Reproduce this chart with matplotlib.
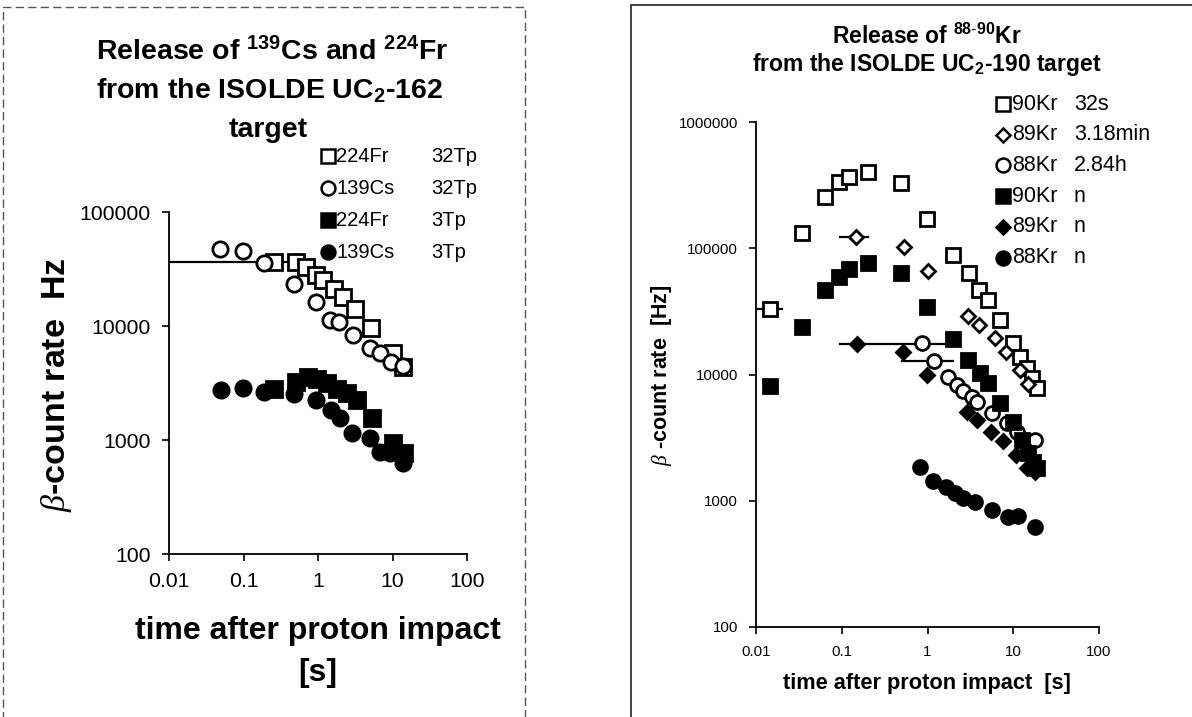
import matplotlib
matplotlib.use("Agg")
import matplotlib.pyplot as plt
from matplotlib.patches import Rectangle
from matplotlib.lines import Line2D

plt.rcParams['font.family'] = ['Liberation Sans', 'DejaVu Sans']
plt.rcParams['mathtext.fontset'] = 'custom'
plt.rcParams['mathtext.rm'] = 'Liberation Sans'
plt.rcParams['mathtext.bf'] = 'Liberation Sans:bold'
plt.rcParams['mathtext.it'] = 'Liberation Serif:italic'

W, H = 1192, 717

# ---- left panel: 139Cs / 224Fr, UC2-162 target ----
fr32_t = [0.26, 0.51, 0.69, 0.94, 1.17, 1.64, 2.17, 3.14, 5.1, 10.2, 13.8]
fr32_r = [36400, 36400, 33000, 28000, 25300, 21100, 18000, 14100, 9600, 5800, 4400]
cs32_t = [0.049, 0.098, 0.19, 0.48, 0.94, 1.45, 1.9, 2.95, 5.0, 6.8, 9.5, 13.8]
cs32_r = [47300, 45500, 35700, 23400, 16300, 11300, 10800, 8300, 6400, 5800, 4800, 4460]
fr3_t = [0.26, 0.51, 0.73, 0.97, 1.32, 1.8, 2.46, 3.35, 5.3, 10.2, 14.1]
fr3_r = [2800, 3230, 3570, 3430, 3160, 2800, 2580, 2240, 1560, 940, 770]
cs3_t = [0.05, 0.098, 0.19, 0.48, 0.94, 1.49, 1.97, 2.84, 5.0, 6.8, 9.2, 13.8]
cs3_r = [2750, 2860, 2640, 2530, 2240, 1830, 1560, 1150, 1040, 785, 770, 630]
left_xerr = [0.01, 0.7]  # horizontal bar on first 224Fr 32Tp point

left_names = ['224Fr', '139Cs', '224Fr', '139Cs']
left_notes = ['32Tp', '32Tp', '3Tp', '3Tp']

# ---- right panel: 88-90Kr, UC2-190 target ----
kr90_t = [0.0146, 0.0344, 0.064, 0.093, 0.122, 0.203, 0.49, 0.99, 1.99, 3.05, 4.0, 5.1,
          7.0, 10.0, 12.0, 14.5, 16.6, 19.0]
kr90_r = [33000, 132000, 255000, 335000, 367000, 402000, 329000, 171000, 88500, 63700,
          46800, 39000, 27100, 17800, 13800, 11300, 9400, 7830]
kr89_t = [0.147, 0.53, 1.02, 2.98, 4.0, 6.15, 8.3, 12.0, 14.9]
kr89_r = [123000, 102000, 66000, 29100, 24700, 19500, 15100, 10900, 8430]
kr88_t = [0.87, 1.19, 1.74, 2.21, 2.6, 3.31, 3.79, 5.67, 8.5, 11.1, 18.0]
kr88_r = [17800, 12800, 9570, 8280, 7420, 6650, 6070, 4970, 4140, 3510, 3030]
kr90n_t = [0.0146, 0.0344, 0.064, 0.093, 0.122, 0.203, 0.49, 0.99, 1.99, 2.98, 4.1, 5.1,
           7.0, 10.0, 12.8, 14.9, 17.2, 19.0]
kr90n_r = [8130, 23800, 46800, 59300, 68600, 76500, 63700, 34300, 19100, 13000, 10300,
           8570, 5960, 4220, 3030, 2390, 2040, 1820]
kr89n_t = [0.15, 0.52, 0.99, 2.9, 3.8, 5.5, 7.6, 10.8, 14.5, 18.0]
kr89n_r = [17500, 15100, 9930, 5060, 4370, 3510, 2980, 2310, 1820, 1700]
kr88n_t = [0.82, 1.16, 1.65, 2.1, 2.6, 3.6, 5.7, 8.7, 11.4, 18.0]
kr88n_r = [1850, 1440, 1290, 1160, 1060, 980, 850, 750, 760, 620]
# horizontal bars (x from, x to) on single points
kr90_xerr = [0.0099, 0.020]
kr89_xerr = [0.095, 0.20]
kr89n_xerr = [0.095, 1.99]
kr88_xerr = [0.50, 2.0]

right_names = ['90Kr', '89Kr', '88Kr', '90Kr', '89Kr', '88Kr']
right_notes = ['32s', '3.18min', '2.84h', 'n', 'n', 'n']

x_ticks = [0.01, 0.1, 1, 10, 100]
x_ticklabels = ['0.01', '0.1', '1', '10', '100']


def fx(px):
    return px / W


def fy(py):
    return 1 - py / H


def style_axes(ax, ymin, ymax, fs):
    ax.set_xscale('log')
    ax.set_yscale('log')
    ax.set_xlim(0.01, 100)
    ax.set_ylim(ymin, ymax)
    ax.spines['top'].set_visible(False)
    ax.spines['right'].set_visible(False)
    for s in ('left', 'bottom'):
        ax.spines[s].set_linewidth(1.3)
    ax.set_xticks(x_ticks)
    ax.set_xticklabels(x_ticklabels)
    ax.minorticks_off()
    ax.tick_params(direction='out', length=5, width=1.2, labelsize=fs, pad=8)
    ax.set_facecolor('white')


def hbar(ax, x0, x1, y):
    ax.plot([x0, x1], [y, y], color='black', lw=1.6, zorder=2)


fig = plt.figure(figsize=(W / 100, H / 100), dpi=100)

# panel frames (open at the bottom / right edge of the page)
fig.add_artist(Rectangle((fx(3), fy(730)), fx(522), (730 - 7) / H, fill=False,
                         ec='#555555', lw=1.0, ls=(0, (6, 3)), transform=fig.transFigure))
fig.add_artist(Rectangle((fx(631), fy(730)), fx(580), (730 - 5) / H, fill=False,
                         ec='#333333', lw=1.3, transform=fig.transFigure))

# ---------------- left ----------------
axL = fig.add_axes([fx(169), fy(554), fx(467 - 169), (554 - 212) / H])
style_axes(axL, 100, 100000, 15.3)
axL.set_yticks([100, 1000, 10000, 100000])
axL.set_yticklabels(['100', '1000', '10000', '100000'])

hbar(axL, left_xerr[0], left_xerr[1], fr32_r[0])
mk = dict(ls='none', mew=2.0, zorder=3, clip_on=False)
axL.plot(fr32_t, fr32_r, marker='s', ms=11, mfc='white', mec='black', **mk)
axL.plot(cs32_t, cs32_r, marker='o', ms=11, mfc='white', mec='black', **mk)
axL.plot(fr3_t, fr3_r, marker='s', ms=11, mfc='black', mec='black', **mk)
axL.plot(cs3_t, cs3_r, marker='o', ms=11, mfc='black', mec='black', **mk)

fig.text(fx(272), fy(52), r'Release of $\mathbf{^{139}}$Cs and $\mathbf{^{224}}$Fr',
         ha='center', va='center', fontsize=20.5, fontweight='bold')
fig.text(fx(270), fy(91), r'from the ISOLDE UC$\mathbf{_2}$-162',
         ha='center', va='center', fontsize=20.5, fontweight='bold')
fig.text(fx(268), fy(130), 'target', ha='center', va='center', fontsize=20.5,
         fontweight='bold')

left_styles = [('s', 'white'), ('o', 'white'), ('s', 'black'), ('o', 'black')]
for i, (name, note) in enumerate(zip(left_names, left_notes)):
    yy = fy(156 + 32 * i)
    m, fc = left_styles[i]
    fig.add_artist(Line2D([fx(328)], [yy], marker=m, ms=10, mfc=fc, mec='black', mew=1.8,
                          transform=fig.transFigure))
    fig.text(fx(336), yy, name, ha='left', va='center', fontsize=14.5)
    fig.text(fx(431), yy, note, ha='left', va='center', fontsize=14.5)

fig.text(fx(57), fy(385), r'$\beta$-count rate  Hz', rotation=90, ha='center', va='center',
         fontsize=24.5, fontweight='bold')
fig.text(fx(318), fy(631), 'time after proton impact', ha='center', va='center',
         fontsize=23, fontweight='bold')
fig.text(fx(318), fy(673), '[s]', ha='center', va='center', fontsize=23, fontweight='bold')

# ---------------- right ----------------
axR = fig.add_axes([fx(756), fy(627), fx(1099 - 756), (627 - 122) / H])
style_axes(axR, 100, 1000000, 10.8)
axR.set_yticks([100, 1000, 10000, 100000, 1000000])
axR.set_yticklabels(['100', '1000', '10000', '100000', '1000000'])

hbar(axR, kr90_xerr[0], kr90_xerr[1], kr90_r[0])
hbar(axR, kr89_xerr[0], kr89_xerr[1], kr89_r[0])
hbar(axR, kr89n_xerr[0], kr89n_xerr[1], kr89n_r[0])
hbar(axR, kr88_xerr[0], kr88_xerr[1], kr88_r[1])

axR.plot(kr90_t, kr90_r, marker='s', ms=10, mfc='white', mec='black', **mk)
axR.plot(kr89_t, kr89_r, marker='D', ms=7.5, mfc='white', mec='black', **mk)
axR.plot(kr88_t, kr88_r, marker='o', ms=10, mfc='white', mec='black', **mk)
axR.plot(kr90n_t, kr90n_r, marker='s', ms=10, mfc='black', mec='black', **mk)
axR.plot(kr89n_t, kr89n_r, marker='D', ms=7.5, mfc='black', mec='black', **mk)
axR.plot(kr88n_t, kr88n_r, marker='o', ms=10, mfc='black', mec='black', **mk)

fig.text(fx(927), fy(36), r'Release of $\mathbf{^{88\text{-}90}}$Kr', ha='center', va='center',
         fontsize=16.5, fontweight='bold')
fig.text(fx(927), fy(65), r'from the ISOLDE UC$\mathbf{_2}$-190 target', ha='center',
         va='center', fontsize=16.5, fontweight='bold')

right_styles = [('s', 'white', 10), ('D', 'white', 7.5), ('o', 'white', 10),
                ('s', 'black', 10), ('D', 'black', 7.5), ('o', 'black', 10)]
for i, (name, note) in enumerate(zip(right_names, right_notes)):
    yy = fy(104 + 30.7 * i)
    m, fc, ms = right_styles[i]
    fig.add_artist(Line2D([fx(1003)], [yy], marker=m, ms=ms, mfc=fc, mec='black', mew=1.8,
                          transform=fig.transFigure))
    fig.text(fx(1012), yy, name, ha='left', va='center', fontsize=15.5)
    fig.text(fx(1074), yy, note, ha='left', va='center', fontsize=15.5)

fig.text(fx(662), fy(375), r'$\beta$ -count rate  [Hz]', rotation=90, ha='center',
         va='center', fontsize=15.5, fontweight='bold')
fig.text(fx(927), fy(684), 'time after proton impact  [s]', ha='center', va='center',
         fontsize=15.7, fontweight='bold')

fig.savefig('out.png', dpi=100, facecolor='white')
